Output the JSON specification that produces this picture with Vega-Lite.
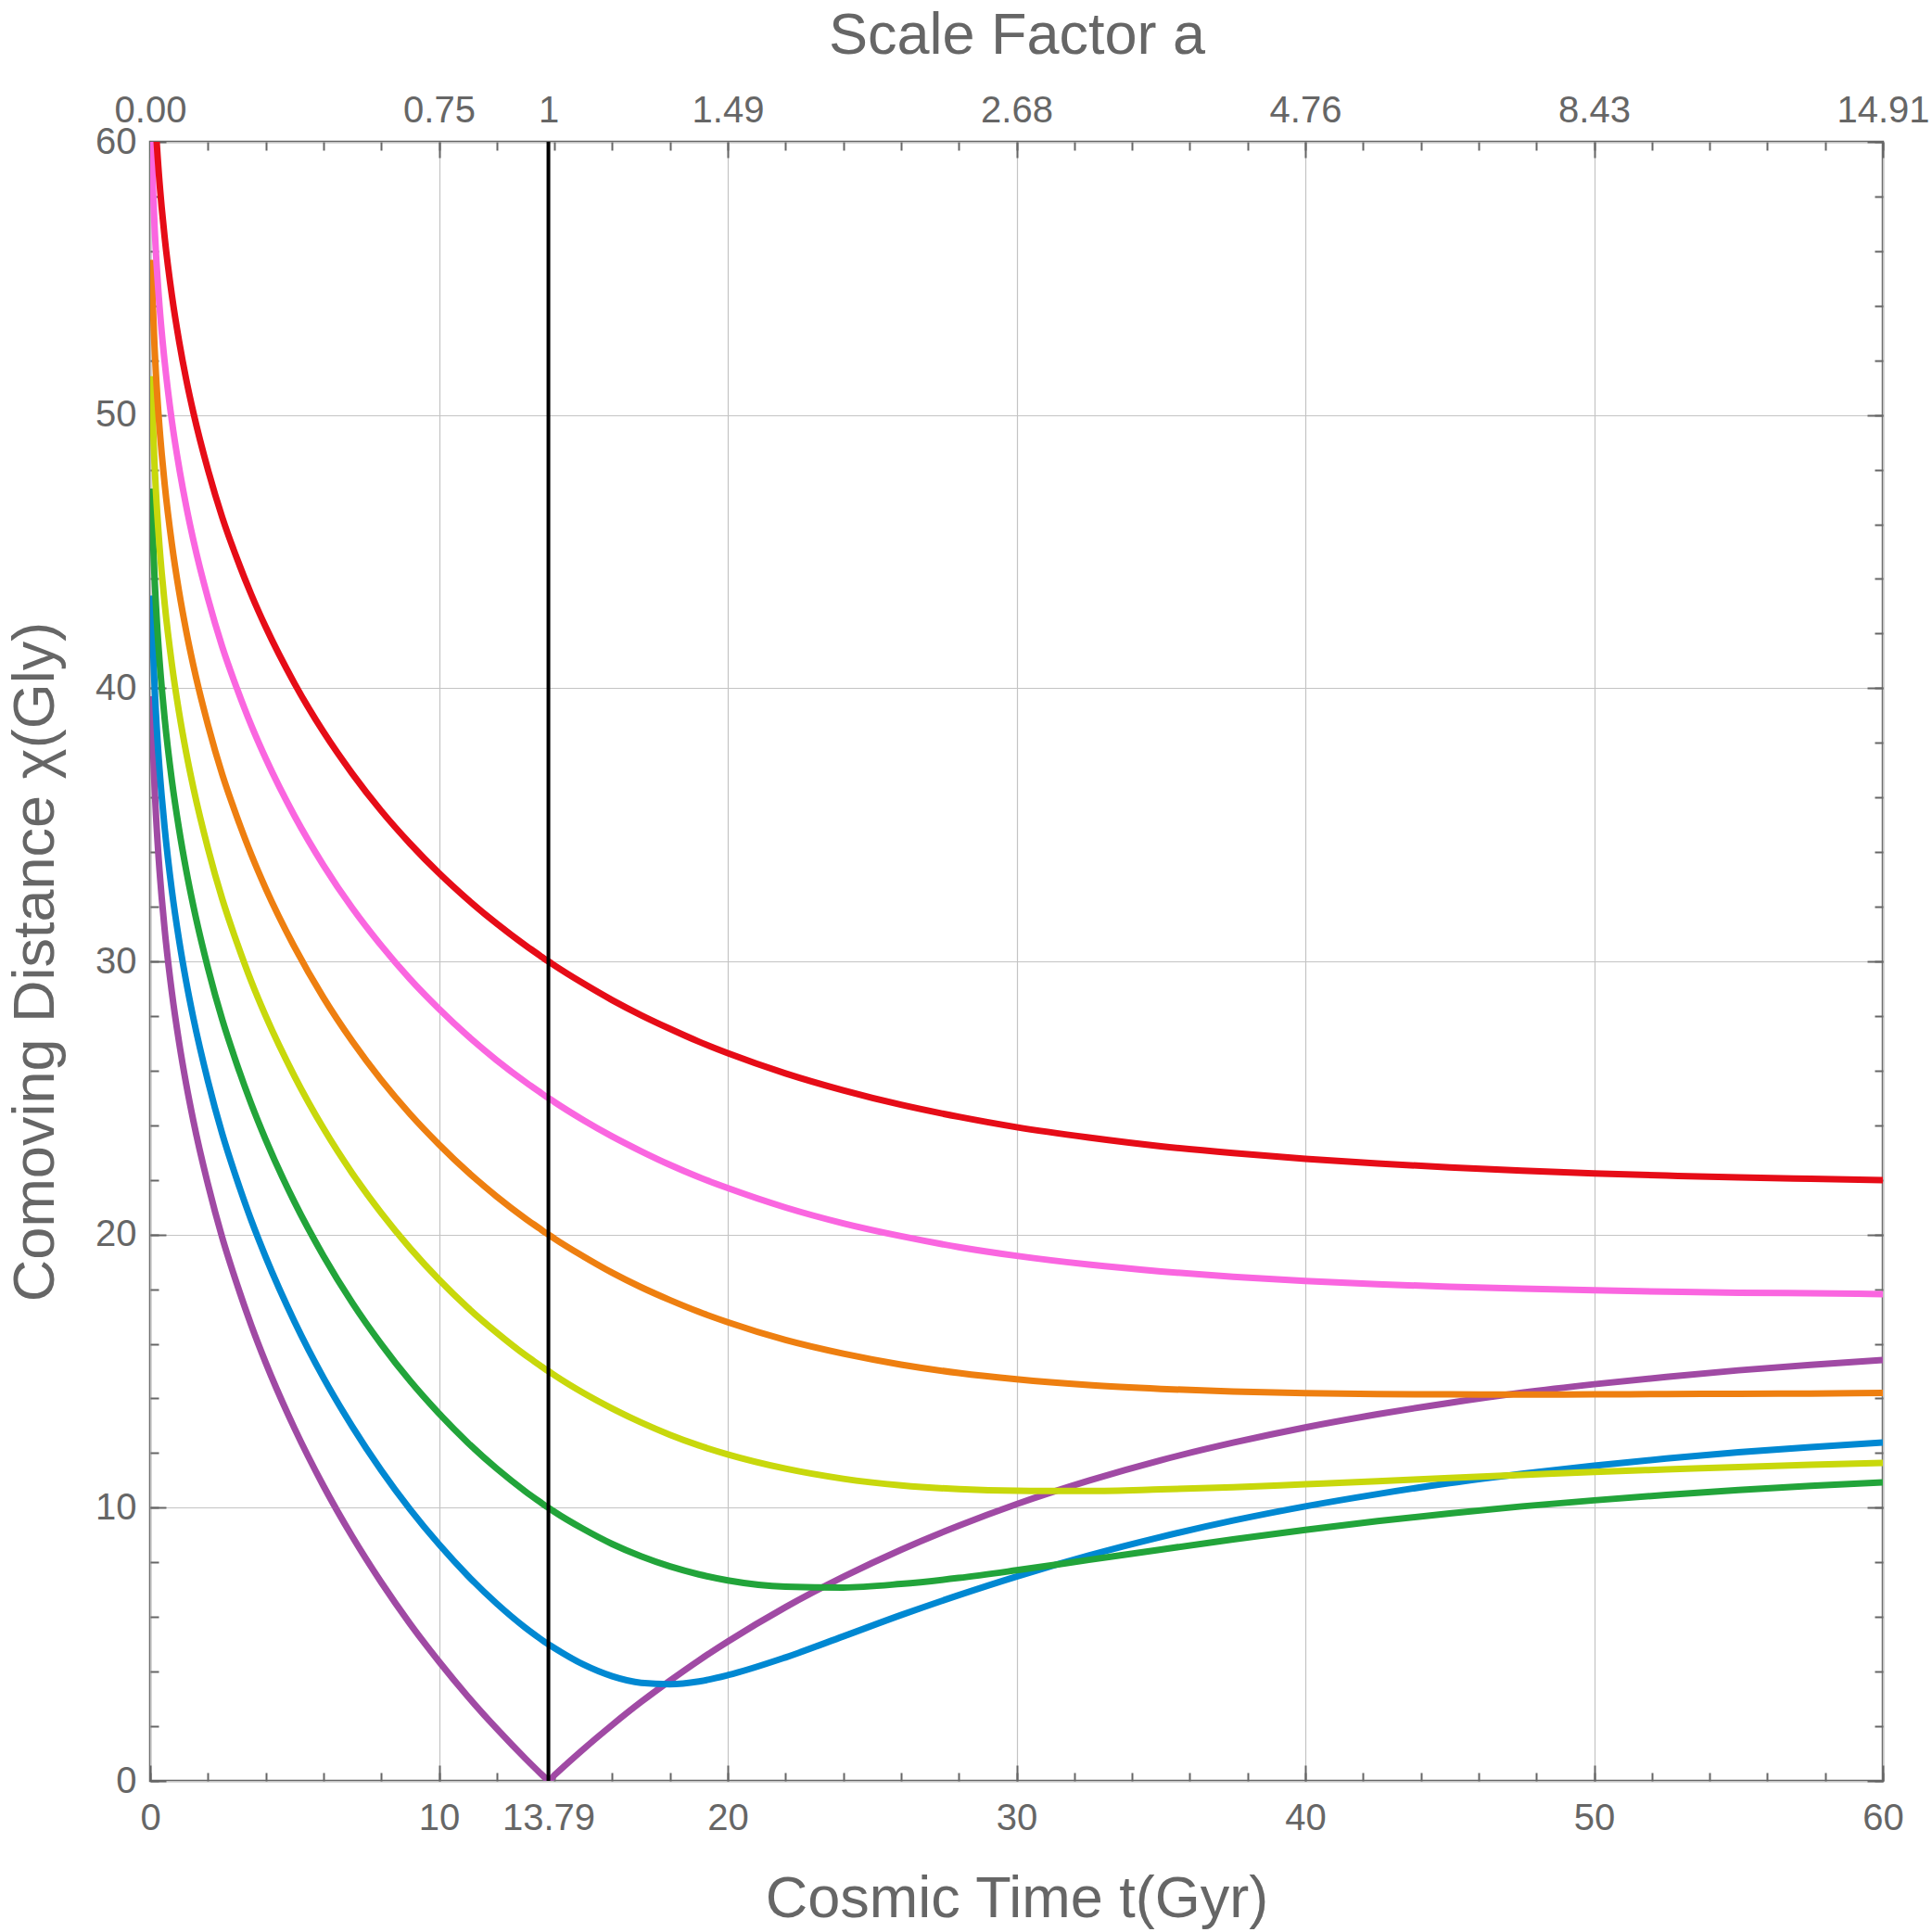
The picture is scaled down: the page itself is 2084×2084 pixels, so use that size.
{
  "$schema": "https://vega.github.io/schema/vega-lite/v6.json",
  "width": 1869,
  "height": 1768,
  "autosize": {"type": "none"},
  "padding": {"left": 162, "top": 153, "right": 53, "bottom": 163},
  "background": "white",
  "config": {
    "view": {"stroke": "#666666", "strokeWidth": 2.5},
    "axis": {
      "domain": false,
      "labelFont": "Liberation Sans",
      "titleFont": "Liberation Sans",
      "labelColor": "#666666",
      "titleColor": "#666666",
      "tickColor": "#666666",
      "tickWidth": 2,
      "labelFontSize": 40,
      "titleFontSize": 63,
      "titleFontWeight": "normal",
      "labelFlush": false,
      "labelOverlap": false,
      "labelBound": false,
      "gridColor": "#c4c4c4",
      "gridWidth": 1.2
    }
  },
  "data": {
    "values": [
      {"c":"r00","t":0.05,"d":39.71},{"c":"r00","t":0.1,"d":37.79},{"c":"r00","t":0.15,"d":36.44},{"c":"r00","t":0.2,"d":35.37},{"c":"r00","t":0.3,"d":33.67},{"c":"r00","t":0.4,"d":32.32},{"c":"r00","t":0.5,"d":31.18},{"c":"r00","t":0.75,"d":28.87},{"c":"r00","t":1,"d":27.04},{"c":"r00","t":1.25,"d":25.49},{"c":"r00","t":1.5,"d":24.14},{"c":"r00","t":2,"d":21.84},{"c":"r00","t":2.5,"d":19.87},{"c":"r00","t":3,"d":18.2},{"c":"r00","t":3.5,"d":16.68},{"c":"r00","t":4,"d":15.31},{"c":"r00","t":5,"d":12.9},{"c":"r00","t":6,"d":10.8},{"c":"r00","t":7,"d":8.94},{"c":"r00","t":8,"d":7.27},{"c":"r00","t":9,"d":5.75},{"c":"r00","t":10,"d":4.37},{"c":"r00","t":11,"d":3.09},{"c":"r00","t":12,"d":1.91},{"c":"r00","t":13,"d":0.81},{"c":"r00","t":13.5,"d":0.29},{"c":"r00","t":13.7,"d":0.09},{"c":"r00","t":13.79,"d":0},
      {"c":"r00","t":14,"d":0.21},{"c":"r00","t":15,"d":1.16},{"c":"r00","t":16,"d":2.05},{"c":"r00","t":17,"d":2.89},{"c":"r00","t":18,"d":3.67},{"c":"r00","t":19,"d":4.41},{"c":"r00","t":20,"d":5.1},{"c":"r00","t":22,"d":6.36},{"c":"r00","t":24,"d":7.47},{"c":"r00","t":26,"d":8.46},{"c":"r00","t":28,"d":9.34},{"c":"r00","t":30,"d":10.13},{"c":"r00","t":32.5,"d":10.99},{"c":"r00","t":35,"d":11.74},{"c":"r00","t":37.5,"d":12.38},{"c":"r00","t":40,"d":12.94},{"c":"r00","t":42.5,"d":13.42},{"c":"r00","t":45,"d":13.84},{"c":"r00","t":47.5,"d":14.21},{"c":"r00","t":50,"d":14.52},{"c":"r00","t":52.5,"d":14.79},{"c":"r00","t":55,"d":15.03},{"c":"r00","t":57.5,"d":15.23},{"c":"r00","t":60,"d":15.41},

      {"c":"r05","t":0.05,"d":43.39},{"c":"r05","t":0.1,"d":41.48},{"c":"r05","t":0.15,"d":40.13},{"c":"r05","t":0.2,"d":39.07},{"c":"r05","t":0.3,"d":37.37},{"c":"r05","t":0.4,"d":36.03},{"c":"r05","t":0.5,"d":34.9},{"c":"r05","t":0.75,"d":32.6},{"c":"r05","t":1,"d":30.78},{"c":"r05","t":1.25,"d":29.24},{"c":"r05","t":1.5,"d":27.9},{"c":"r05","t":2,"d":25.62},{"c":"r05","t":2.5,"d":23.67},{"c":"r05","t":3,"d":22.02},{"c":"r05","t":3.5,"d":20.52},{"c":"r05","t":4,"d":19.18},{"c":"r05","t":5,"d":16.81},{"c":"r05","t":6,"d":14.76},{"c":"r05","t":7,"d":12.97},{"c":"r05","t":8,"d":11.37},{"c":"r05","t":9,"d":9.94},{"c":"r05","t":10,"d":8.66},{"c":"r05","t":11,"d":7.51},{"c":"r05","t":12,"d":6.49},{"c":"r05","t":13,"d":5.6},{"c":"r05","t":13.5,"d":5.21},{"c":"r05","t":13.7,"d":5.06},{"c":"r05","t":13.79,"d":5},
      {"c":"r05","t":14,"d":4.86},{"c":"r05","t":15,"d":4.26},{"c":"r05","t":16,"d":3.83},{"c":"r05","t":17,"d":3.59},{"c":"r05","t":18,"d":3.54},{"c":"r05","t":19,"d":3.64},{"c":"r05","t":20,"d":3.87},{"c":"r05","t":22,"d":4.52},{"c":"r05","t":24,"d":5.29},{"c":"r05","t":26,"d":6.07},{"c":"r05","t":28,"d":6.8},{"c":"r05","t":30,"d":7.48},{"c":"r05","t":32.5,"d":8.25},{"c":"r05","t":35,"d":8.93},{"c":"r05","t":37.5,"d":9.53},{"c":"r05","t":40,"d":10.05},{"c":"r05","t":42.5,"d":10.5},{"c":"r05","t":45,"d":10.9},{"c":"r05","t":47.5,"d":11.24},{"c":"r05","t":50,"d":11.54},{"c":"r05","t":52.5,"d":11.8},{"c":"r05","t":55,"d":12.03},{"c":"r05","t":57.5,"d":12.22},{"c":"r05","t":60,"d":12.39},

      {"c":"r10","t":0.05,"d":47.31},{"c":"r10","t":0.1,"d":45.41},{"c":"r10","t":0.15,"d":44.08},{"c":"r10","t":0.2,"d":43.03},{"c":"r10","t":0.3,"d":41.35},{"c":"r10","t":0.4,"d":40.02},{"c":"r10","t":0.5,"d":38.9},{"c":"r10","t":0.75,"d":36.63},{"c":"r10","t":1,"d":34.84},{"c":"r10","t":1.25,"d":33.32},{"c":"r10","t":1.5,"d":32},{"c":"r10","t":2,"d":29.76},{"c":"r10","t":2.5,"d":27.85},{"c":"r10","t":3,"d":26.24},{"c":"r10","t":3.5,"d":24.78},{"c":"r10","t":4,"d":23.47},{"c":"r10","t":5,"d":21.18},{"c":"r10","t":6,"d":19.22},{"c":"r10","t":7,"d":17.5},{"c":"r10","t":8,"d":15.99},{"c":"r10","t":9,"d":14.64},{"c":"r10","t":10,"d":13.45},{"c":"r10","t":11,"d":12.38},{"c":"r10","t":12,"d":11.43},{"c":"r10","t":13,"d":10.59},{"c":"r10","t":13.5,"d":10.21},{"c":"r10","t":13.7,"d":10.06},{"c":"r10","t":13.79,"d":10},
      {"c":"r10","t":14,"d":9.85},{"c":"r10","t":15,"d":9.22},{"c":"r10","t":16,"d":8.67},{"c":"r10","t":17,"d":8.22},{"c":"r10","t":18,"d":7.85},{"c":"r10","t":19,"d":7.56},{"c":"r10","t":20,"d":7.34},{"c":"r10","t":22,"d":7.11},{"c":"r10","t":24,"d":7.08},{"c":"r10","t":26,"d":7.21},{"c":"r10","t":28,"d":7.43},{"c":"r10","t":30,"d":7.71},{"c":"r10","t":32.5,"d":8.09},{"c":"r10","t":35,"d":8.47},{"c":"r10","t":37.5,"d":8.84},{"c":"r10","t":40,"d":9.19},{"c":"r10","t":42.5,"d":9.51},{"c":"r10","t":45,"d":9.79},{"c":"r10","t":47.5,"d":10.05},{"c":"r10","t":50,"d":10.27},{"c":"r10","t":52.5,"d":10.47},{"c":"r10","t":55,"d":10.65},{"c":"r10","t":57.5,"d":10.8},{"c":"r10","t":60,"d":10.93},

      {"c":"r15","t":0.05,"d":51.42},{"c":"r15","t":0.1,"d":49.55},{"c":"r15","t":0.15,"d":48.23},{"c":"r15","t":0.2,"d":47.18},{"c":"r15","t":0.3,"d":45.53},{"c":"r15","t":0.4,"d":44.22},{"c":"r15","t":0.5,"d":43.11},{"c":"r15","t":0.75,"d":40.88},{"c":"r15","t":1,"d":39.11},{"c":"r15","t":1.25,"d":37.62},{"c":"r15","t":1.5,"d":36.33},{"c":"r15","t":2,"d":34.14},{"c":"r15","t":2.5,"d":32.27},{"c":"r15","t":3,"d":30.7},{"c":"r15","t":3.5,"d":29.27},{"c":"r15","t":4,"d":28},{"c":"r15","t":5,"d":25.79},{"c":"r15","t":6,"d":23.89},{"c":"r15","t":7,"d":22.24},{"c":"r15","t":8,"d":20.79},{"c":"r15","t":9,"d":19.5},{"c":"r15","t":10,"d":18.35},{"c":"r15","t":11,"d":17.32},{"c":"r15","t":12,"d":16.41},{"c":"r15","t":13,"d":15.58},{"c":"r15","t":13.5,"d":15.21},{"c":"r15","t":13.7,"d":15.06},{"c":"r15","t":13.79,"d":15},
      {"c":"r15","t":14,"d":14.85},{"c":"r15","t":15,"d":14.2},{"c":"r15","t":16,"d":13.63},{"c":"r15","t":17,"d":13.12},{"c":"r15","t":18,"d":12.67},{"c":"r15","t":19,"d":12.28},{"c":"r15","t":20,"d":11.95},{"c":"r15","t":22,"d":11.43},{"c":"r15","t":24,"d":11.06},{"c":"r15","t":26,"d":10.82},{"c":"r15","t":28,"d":10.68},{"c":"r15","t":30,"d":10.62},{"c":"r15","t":32.5,"d":10.61},{"c":"r15","t":35,"d":10.67},{"c":"r15","t":37.5,"d":10.75},{"c":"r15","t":40,"d":10.86},{"c":"r15","t":42.5,"d":10.97},{"c":"r15","t":45,"d":11.09},{"c":"r15","t":47.5,"d":11.2},{"c":"r15","t":50,"d":11.31},{"c":"r15","t":52.5,"d":11.4},{"c":"r15","t":55,"d":11.49},{"c":"r15","t":57.5,"d":11.57},{"c":"r15","t":60,"d":11.64},

      {"c":"r20","t":0.05,"d":55.68},{"c":"r20","t":0.1,"d":53.82},{"c":"r20","t":0.15,"d":52.52},{"c":"r20","t":0.2,"d":51.49},{"c":"r20","t":0.3,"d":49.86},{"c":"r20","t":0.4,"d":48.57},{"c":"r20","t":0.5,"d":47.48},{"c":"r20","t":0.75,"d":45.28},{"c":"r20","t":1,"d":43.54},{"c":"r20","t":1.25,"d":42.08},{"c":"r20","t":1.5,"d":40.81},{"c":"r20","t":2,"d":38.66},{"c":"r20","t":2.5,"d":36.83},{"c":"r20","t":3,"d":35.3},{"c":"r20","t":3.5,"d":33.91},{"c":"r20","t":4,"d":32.67},{"c":"r20","t":5,"d":30.52},{"c":"r20","t":6,"d":28.67},{"c":"r20","t":7,"d":27.07},{"c":"r20","t":8,"d":25.66},{"c":"r20","t":9,"d":24.41},{"c":"r20","t":10,"d":23.3},{"c":"r20","t":11,"d":22.29},{"c":"r20","t":12,"d":21.39},{"c":"r20","t":13,"d":20.58},{"c":"r20","t":13.5,"d":20.21},{"c":"r20","t":13.7,"d":20.06},{"c":"r20","t":13.79,"d":20},
      {"c":"r20","t":14,"d":19.85},{"c":"r20","t":15,"d":19.2},{"c":"r20","t":16,"d":18.6},{"c":"r20","t":17,"d":18.07},{"c":"r20","t":18,"d":17.6},{"c":"r20","t":19,"d":17.17},{"c":"r20","t":20,"d":16.79},{"c":"r20","t":22,"d":16.14},{"c":"r20","t":24,"d":15.64},{"c":"r20","t":26,"d":15.24},{"c":"r20","t":28,"d":14.93},{"c":"r20","t":30,"d":14.7},{"c":"r20","t":32.5,"d":14.49},{"c":"r20","t":35,"d":14.35},{"c":"r20","t":37.5,"d":14.25},{"c":"r20","t":40,"d":14.19},{"c":"r20","t":42.5,"d":14.16},{"c":"r20","t":45,"d":14.15},{"c":"r20","t":47.5,"d":14.14},{"c":"r20","t":50,"d":14.15},{"c":"r20","t":52.5,"d":14.16},{"c":"r20","t":55,"d":14.17},{"c":"r20","t":57.5,"d":14.18},{"c":"r20","t":60,"d":14.2},

      {"c":"r25","t":0.05,"d":60.05},{"c":"r25","t":0.1,"d":58.22},{"c":"r25","t":0.15,"d":56.93},{"c":"r25","t":0.2,"d":55.92},{"c":"r25","t":0.3,"d":54.31},{"c":"r25","t":0.4,"d":53.03},{"c":"r25","t":0.5,"d":51.96},{"c":"r25","t":0.75,"d":49.79},{"c":"r25","t":1,"d":48.09},{"c":"r25","t":1.25,"d":46.65},{"c":"r25","t":1.5,"d":45.4},{"c":"r25","t":2,"d":43.29},{"c":"r25","t":2.5,"d":41.5},{"c":"r25","t":3,"d":40},{"c":"r25","t":3.5,"d":38.64},{"c":"r25","t":4,"d":37.43},{"c":"r25","t":5,"d":35.32},{"c":"r25","t":6,"d":33.52},{"c":"r25","t":7,"d":31.95},{"c":"r25","t":8,"d":30.58},{"c":"r25","t":9,"d":29.35},{"c":"r25","t":10,"d":28.26},{"c":"r25","t":11,"d":27.27},{"c":"r25","t":12,"d":26.38},{"c":"r25","t":13,"d":25.58},{"c":"r25","t":13.5,"d":25.21},{"c":"r25","t":13.7,"d":25.06},{"c":"r25","t":13.79,"d":25},
      {"c":"r25","t":14,"d":24.85},{"c":"r25","t":15,"d":24.19},{"c":"r25","t":16,"d":23.59},{"c":"r25","t":17,"d":23.05},{"c":"r25","t":18,"d":22.55},{"c":"r25","t":19,"d":22.1},{"c":"r25","t":20,"d":21.7},{"c":"r25","t":22,"d":20.99},{"c":"r25","t":24,"d":20.41},{"c":"r25","t":26,"d":19.94},{"c":"r25","t":28,"d":19.54},{"c":"r25","t":30,"d":19.22},{"c":"r25","t":32.5,"d":18.9},{"c":"r25","t":35,"d":18.65},{"c":"r25","t":37.5,"d":18.45},{"c":"r25","t":40,"d":18.3},{"c":"r25","t":42.5,"d":18.18},{"c":"r25","t":45,"d":18.09},{"c":"r25","t":47.5,"d":18.02},{"c":"r25","t":50,"d":17.96},{"c":"r25","t":52.5,"d":17.91},{"c":"r25","t":55,"d":17.87},{"c":"r25","t":57.5,"d":17.85},{"c":"r25","t":60,"d":17.82},

      {"c":"r30","t":0.05,"d":64.51},{"c":"r30","t":0.1,"d":62.7},{"c":"r30","t":0.15,"d":61.43},{"c":"r30","t":0.2,"d":60.43},{"c":"r30","t":0.3,"d":58.84},{"c":"r30","t":0.4,"d":57.58},{"c":"r30","t":0.5,"d":56.52},{"c":"r30","t":0.75,"d":54.39},{"c":"r30","t":1,"d":52.71},{"c":"r30","t":1.25,"d":51.29},{"c":"r30","t":1.5,"d":50.07},{"c":"r30","t":2,"d":48},{"c":"r30","t":2.5,"d":46.24},{"c":"r30","t":3,"d":44.76},{"c":"r30","t":3.5,"d":43.43},{"c":"r30","t":4,"d":42.24},{"c":"r30","t":5,"d":40.17},{"c":"r30","t":6,"d":38.4},{"c":"r30","t":7,"d":36.87},{"c":"r30","t":8,"d":35.51},{"c":"r30","t":9,"d":34.31},{"c":"r30","t":10,"d":33.23},{"c":"r30","t":11,"d":32.26},{"c":"r30","t":12,"d":31.38},{"c":"r30","t":13,"d":30.58},{"c":"r30","t":13.5,"d":30.21},{"c":"r30","t":13.7,"d":30.06},{"c":"r30","t":13.79,"d":30},
      {"c":"r30","t":14,"d":29.85},{"c":"r30","t":15,"d":29.19},{"c":"r30","t":16,"d":28.58},{"c":"r30","t":17,"d":28.03},{"c":"r30","t":18,"d":27.53},{"c":"r30","t":19,"d":27.06},{"c":"r30","t":20,"d":26.64},{"c":"r30","t":22,"d":25.9},{"c":"r30","t":24,"d":25.28},{"c":"r30","t":26,"d":24.75},{"c":"r30","t":28,"d":24.31},{"c":"r30","t":30,"d":23.93},{"c":"r30","t":32.5,"d":23.55},{"c":"r30","t":35,"d":23.23},{"c":"r30","t":37.5,"d":22.98},{"c":"r30","t":40,"d":22.77},{"c":"r30","t":42.5,"d":22.6},{"c":"r30","t":45,"d":22.46},{"c":"r30","t":47.5,"d":22.34},{"c":"r30","t":50,"d":22.24},{"c":"r30","t":52.5,"d":22.16},{"c":"r30","t":55,"d":22.09},{"c":"r30","t":57.5,"d":22.04},{"c":"r30","t":60,"d":21.99}
    ]
  },
  "layer": [
    {
      "mark": {"type": "line", "strokeWidth": 7, "interpolate": "monotone", "clip": true},
      "encoding": {
        "x": {
          "field": "t", "type": "quantitative",
          "scale": {"domain": [0, 60], "nice": false},
          "axis": {
            "orient": "bottom", "values": [0, 10, 13.79, 20, 30, 40, 50, 60], "format": ".4~g",
            "ticks": false, "grid": true, "labelPadding": 52, "labelBaseline": "alphabetic",
            "title": "Cosmic Time t(Gyr)", "titleX": 934.5, "titleY": 146, "titleAlign": "center", "titleBaseline": "alphabetic"
          }
        },
        "y": {
          "field": "d", "type": "quantitative",
          "scale": {"domain": [0, 60], "nice": false},
          "axis": {
            "orient": "left", "values": [0, 10, 20, 30, 40, 50, 60], "format": "d",
            "ticks": false, "grid": true, "labelPadding": 15, "labelBaseline": "middle",
            "title": "Comoving Distance χ(Gly)", "titleAngle": -90, "titleX": -105, "titleY": 884, "titleAlign": "center", "titleBaseline": "alphabetic"
          }
        },
        "color": {
          "field": "c", "type": "nominal", "legend": null,
          "scale": {
            "domain": ["r00", "r05", "r10", "r15", "r20", "r25", "r30"],
            "range": ["#a04aa4", "#0088d2", "#22a43a", "#c8d80c", "#ee7f10", "#fa66e0", "#e60c17"]
          }
        }
      }
    },
    {
      "data": {"values": [{"t": 13.79}]},
      "mark": {"type": "rule", "color": "black", "strokeWidth": 4},
      "encoding": {
        "x": {
          "field": "t", "type": "quantitative",
          "axis": {
            "orient": "top", "values": [0, 10, 13.79, 20, 30, 40, 50, 60],
            "labelExpr": "datum.value == 0 ? '0.00' : datum.value == 10 ? '0.75' : datum.value < 14 ? '1' : datum.value == 20 ? '1.49' : datum.value == 30 ? '2.68' : datum.value == 40 ? '4.76' : datum.value == 50 ? '8.43' : '14.91'",
            "ticks": false, "grid": false, "labelPadding": 22, "labelBaseline": "alphabetic",
            "title": "Scale Factor a", "titleX": 934.5, "titleY": -96, "titleAlign": "center", "titleBaseline": "alphabetic"
          }
        }
      }
    },
    {
      "mark": {"type": "line", "opacity": 0},
      "encoding": {
        "x": {"field": "t", "type": "quantitative", "axis": {"orient": "bottom", "values": [0, 10, 20, 30, 40, 50, 60], "labels": false, "grid": false, "tickSize": -17, "title": null}},
        "y": {"field": "d", "type": "quantitative", "axis": {"orient": "left", "values": [0, 10, 20, 30, 40, 50, 60], "labels": false, "grid": false, "tickSize": -17, "title": null}}
      }
    },
    {
      "mark": {"type": "line", "opacity": 0},
      "encoding": {
        "x": {"field": "t", "type": "quantitative", "axis": {"orient": "bottom", "values": [0, 2, 4, 6, 8, 10, 12, 14, 16, 18, 20, 22, 24, 26, 28, 30, 32, 34, 36, 38, 40, 42, 44, 46, 48, 50, 52, 54, 56, 58, 60], "labels": false, "grid": false, "tickSize": -9, "title": null}},
        "y": {"field": "d", "type": "quantitative", "axis": {"orient": "left", "values": [0, 2, 4, 6, 8, 10, 12, 14, 16, 18, 20, 22, 24, 26, 28, 30, 32, 34, 36, 38, 40, 42, 44, 46, 48, 50, 52, 54, 56, 58, 60], "labels": false, "grid": false, "tickSize": -9, "title": null}}
      }
    },
    {
      "mark": {"type": "line", "opacity": 0},
      "encoding": {
        "x": {"field": "t", "type": "quantitative", "axis": {"orient": "top", "values": [0, 10, 20, 30, 40, 50, 60], "labels": false, "grid": false, "tickSize": -17, "title": null}},
        "y": {"field": "d", "type": "quantitative", "axis": {"orient": "right", "values": [0, 10, 20, 30, 40, 50, 60], "labels": false, "grid": false, "tickSize": -17, "title": null}}
      }
    },
    {
      "mark": {"type": "line", "opacity": 0},
      "encoding": {
        "x": {"field": "t", "type": "quantitative", "axis": {"orient": "top", "values": [0, 2, 4, 6, 8, 10, 12, 14, 16, 18, 20, 22, 24, 26, 28, 30, 32, 34, 36, 38, 40, 42, 44, 46, 48, 50, 52, 54, 56, 58, 60], "labels": false, "grid": false, "tickSize": -9, "title": null}},
        "y": {"field": "d", "type": "quantitative", "axis": {"orient": "right", "values": [0, 2, 4, 6, 8, 10, 12, 14, 16, 18, 20, 22, 24, 26, 28, 30, 32, 34, 36, 38, 40, 42, 44, 46, 48, 50, 52, 54, 56, 58, 60], "labels": false, "grid": false, "tickSize": -9, "title": null}}
      }
    }
  ],
  "resolve": {"axis": {"x": "independent", "y": "independent"}}
}
